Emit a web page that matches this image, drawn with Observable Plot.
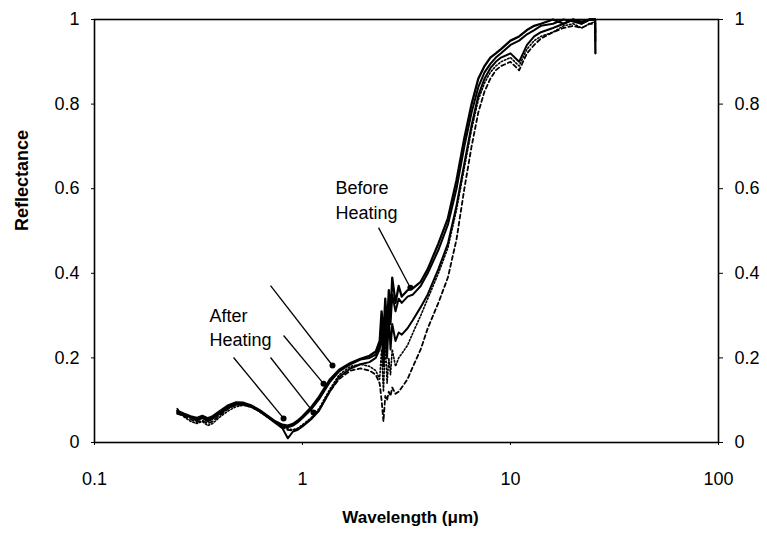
<!DOCTYPE html>
<html>
<head>
<meta charset="utf-8">
<script src="https://cdn.jsdelivr.net/npm/d3@7"></script>
<script src="https://cdn.jsdelivr.net/npm/@observablehq/plot@0.6"></script>
<style>
  html, body { margin: 0; padding: 0; background: white; }
  #chart { width: 767px; height: 535px; }
</style>
</head>
<body>
<div id="chart"></div>
<script>
// Wavelength grid (µm)
const wavelength = [0.25,0.27,0.29,0.31,0.33,0.35,0.37,0.40,0.44,0.48,0.52,0.57,0.62,0.68,0.74,0.80,0.85,0.90,0.95,1.0,1.1,1.2,1.35,1.5,1.7,1.9,2.1,2.25,2.35,2.4,2.45,2.5,2.55,2.6,2.65,2.7,2.8,2.9,3.0,3.2,3.4,3.7,4.0,4.5,5.0,5.5,6.0,6.5,7.0,7.5,8.0,8.5,9.0,10,11,12,13,14,16,18,20,22,24,25.5,25.6];

// Reflectance spectra
const beforeA = [.075,.068,.062,.058,.063,.057,.062,.074,.088,.095,.094,.087,.077,.063,.050,.042,.040,.044,.052,.062,.083,.108,.148,.172,.188,.198,.205,.215,.24,.31,.25,.34,.27,.36,.30,.39,.33,.37,.345,.36,.365,.38,.41,.47,.53,.62,.72,.80,.86,.89,.91,.92,.93,.95,.96,.975,.985,.99,1.0,.99,1.0,.995,1.0,1.0,.92];
const beforeB = [.068,.064,.060,.055,.060,.054,.058,.070,.084,.092,.092,.086,.076,.062,.049,.040,.036,.040,.048,.058,.078,.102,.142,.168,.185,.196,.200,.208,.23,.27,.22,.30,.24,.32,.28,.35,.31,.34,.33,.345,.35,.37,.40,.455,.515,.60,.70,.78,.84,.875,.895,.91,.92,.94,.95,.965,.975,.985,.99,1.0,.995,.99,1.0,1.0,.95];
const afterA = [.072,.066,.060,.052,.058,.050,.056,.068,.082,.090,.090,.084,.074,.060,.046,.034,.010,.026,.030,.038,.055,.075,.12,.155,.175,.185,.19,.20,.22,.26,.18,.28,.20,.30,.22,.28,.24,.26,.255,.27,.29,.32,.35,.41,.47,.56,.66,.75,.82,.86,.885,.90,.91,.92,.90,.94,.96,.97,.98,.99,1.0,.99,1.0,1.0,.97];
const afterB = [.080,.060,.050,.045,.050,.040,.045,.060,.075,.085,.088,.083,.073,.060,.048,.038,.032,.030,.034,.042,.058,.080,.125,.16,.18,.185,.18,.17,.15,.22,.12,.24,.14,.20,.16,.22,.18,.20,.21,.23,.26,.30,.34,.40,.46,.55,.65,.74,.81,.85,.875,.89,.90,.91,.89,.93,.95,.96,.97,.985,.99,.98,.99,.995,.99];
const afterC = [.070,.062,.055,.048,.052,.045,.050,.064,.080,.089,.090,.084,.074,.061,.048,.036,.030,.028,.032,.040,.056,.076,.12,.15,.17,.175,.17,.16,.14,.10,.05,.11,.10,.12,.11,.13,.115,.12,.13,.15,.18,.22,.27,.33,.39,.48,.60,.70,.78,.83,.86,.88,.89,.90,.88,.92,.94,.955,.97,.98,.985,.98,.99,.99,.99];

// Axis ticks and labels
const xTicks = [0.1, 1, 10, 100];
const xTickLabels = ["0.1", "1", "10", "100"];
const yTicks = [0, 0.2, 0.4, 0.6, 0.8, 1];
const yTickLabels = ["0", "0.2", "0.4", "0.6", "0.8", "1"];

// Annotations (data units)
const noteText = ["Before\nHeating", "After\nHeating"];
const noteX = [1.44, 0.357];
const noteY = [0.576, 0.275];
const arrowX1 = [2.32, 0.466, 0.702, 0.811, 0.702];
const arrowY1 = [0.508, 0.201, 0.201, 0.253, 0.371];
const arrowX2 = [3.30, 0.811, 1.129, 1.262, 1.394];
const arrowY2 = [0.366, 0.057, 0.071, 0.139, 0.182];

const toRows = (vals) => wavelength.map((w, i) => ({w, r: vals[i]}));
const notes = noteText.map((t, i) => ({t, x: noteX[i], y: noteY[i]}));
const arrows = arrowX1.map((x1, i) => ({x1, y1: arrowY1[i], x2: arrowX2[i], y2: arrowY2[i]}));

const chart = Plot.plot({
  width: 767,
  height: 535,
  marginLeft: 94,
  marginRight: 49,
  marginTop: 19,
  marginBottom: 93,
  x: {type: "log", domain: [0.1, 100]},
  y: {domain: [0, 1]},
  style: {fontFamily: "'Liberation Sans', Arial, sans-serif", fontSize: "18px", color: "black", background: "white"},
  marks: [
    Plot.axisX({ticks: xTicks, tickFormat: d => xTickLabels[xTicks.indexOf(d)], tickSize: 3, tickPadding: 27, label: null}),
    Plot.axisY({anchor: "left", ticks: yTicks, tickFormat: d => yTickLabels[yTicks.indexOf(d)], tickSize: 3, tickPadding: 12, label: null}),
    Plot.axisY({anchor: "right", ticks: yTicks, tickFormat: d => yTickLabels[yTicks.indexOf(d)], tickSize: 4, tickPadding: 12, label: null}),
    Plot.line(toRows(afterC), {x: "w", y: "r", stroke: "black", strokeWidth: 1.8, strokeDasharray: "4,3"}),
    Plot.line(toRows(afterB), {x: "w", y: "r", stroke: "black", strokeWidth: 1.6, strokeDasharray: "1.5,2"}),
    Plot.line(toRows(afterA), {x: "w", y: "r", stroke: "black", strokeWidth: 2}),
    Plot.line(toRows(beforeB), {x: "w", y: "r", stroke: "black", strokeWidth: 2}),
    Plot.line(toRows(beforeA), {x: "w", y: "r", stroke: "black", strokeWidth: 2.3}),
    Plot.link(arrows, {x1: "x1", y1: "y1", x2: "x2", y2: "y2", stroke: "black", strokeWidth: 1.3}),
    Plot.dot(arrows, {x: "x2", y: "y2", r: 3, fill: "black"}),
    Plot.text(notes, {x: "x", y: "y", text: "t", textAnchor: "start", lineHeight: 1.35, fontSize: 18}),
    Plot.frame({stroke: "black", strokeWidth: 1.6}),
    Plot.text(["Wavelength (\u03BCm)"], {frameAnchor: "bottom", dx: 4, dy: 80, fontWeight: "bold", fontSize: 17}),
    Plot.text(["Reflectance"], {frameAnchor: "left", dx: -72, rotate: -90, fontWeight: "bold", fontSize: 18})
  ]
});
document.getElementById("chart").appendChild(chart);
</script>
</body>
</html>
